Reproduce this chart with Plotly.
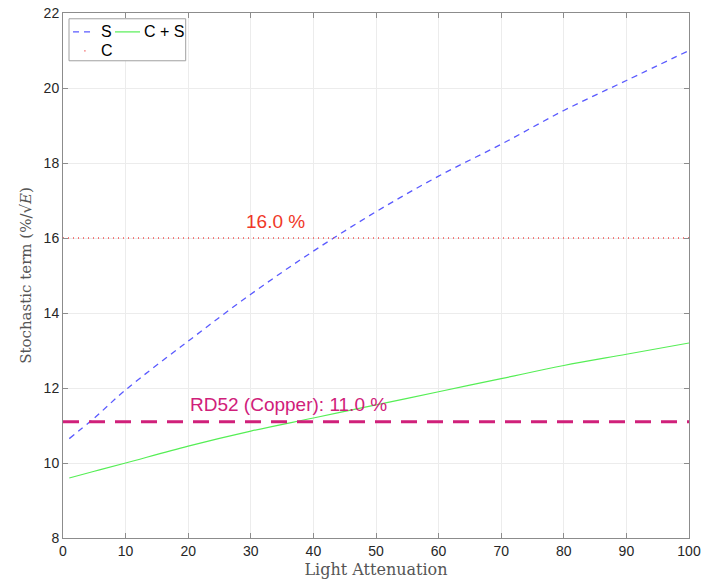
import plotly.graph_objects as go

x_att = [1, 5, 10, 20, 30, 40, 50, 60, 70, 80, 90, 100]
s_vals = [10.65, 11.2, 11.95, 13.25, 14.5, 15.65, 16.7, 17.65, 18.5, 19.4, 20.2, 21.0]
cs_vals = [9.6, 9.78, 10.0, 10.45, 10.85, 11.2, 11.55, 11.9, 12.25, 12.6, 12.9, 13.2]
c_x = [0, 100]
c_vals = [16.0, 16.0]
rd52_x = [0, 100]
rd52_vals = [11.1, 11.1]
x_ticks = list(range(0, 101, 10))
y_ticks = list(range(8, 23, 2))

fig = go.Figure()
fig.add_trace(go.Scatter(x=x_att, y=s_vals, mode="lines", name="S",
                         line=dict(color="#5a5aff", width=1.3, dash="6px,5px"), line_shape="spline"))
fig.add_trace(go.Scatter(x=x_att, y=cs_vals, mode="lines", name="C + S",
                         line=dict(color="#55ee55", width=1.2), line_shape="spline"))
fig.add_trace(go.Scatter(x=c_x, y=c_vals, mode="lines", name="C",
                         line=dict(color="#f05050", width=1.3, dash="1px,4px")))
fig.add_trace(go.Scatter(x=rd52_x, y=rd52_vals, mode="lines", name="RD52",
                         line=dict(color="#d0207a", width=3, dash="16px,10px"), showlegend=False))

fig.add_annotation(x=34, y=16.45, text="16.0 %", showarrow=False,
                   font=dict(family="Liberation Sans, Arial", size=19, color="#f03828"))
fig.add_annotation(x=36, y=11.55, text="RD52 (Copper): 11.0 %", showarrow=False,
                   font=dict(family="Liberation Sans, Arial", size=19, color="#d0207a"))

# manual legend
fig.add_shape(type="rect", xref="paper", yref="paper", x0=0.0096, x1=0.196, y0=0.909, y1=0.989,
              line=dict(color="#a0a0a0", width=1), fillcolor="white")
leg_font = dict(family="Liberation Sans, Arial", size=16, color="black")
fig.add_shape(type="line", xref="paper", yref="paper", x0=0.016, x1=0.048, y0=0.964, y1=0.964,
              line=dict(color="#5a5aff", width=1.3, dash="6px,5px"))
fig.add_annotation(xref="paper", yref="paper", x=0.0575, y=0.964, text="S", showarrow=False,
                   xanchor="left", yanchor="middle", font=leg_font)
fig.add_shape(type="line", xref="paper", yref="paper", x0=0.083, x1=0.123, y0=0.964, y1=0.964,
              line=dict(color="#55ee55", width=1.2))
fig.add_annotation(xref="paper", yref="paper", x=0.126, y=0.964, text="C + S", showarrow=False,
                   xanchor="left", yanchor="middle", font=leg_font)
fig.add_shape(type="line", xref="paper", yref="paper", x0=0.034, x1=0.036, y0=0.928, y1=0.928,
              line=dict(color="#f05050", width=1.2))
fig.add_annotation(xref="paper", yref="paper", x=0.0575, y=0.928, text="C", showarrow=False,
                   xanchor="left", yanchor="middle", font=leg_font)

axis_common = dict(showline=True, mirror="ticks", linecolor="#8c8c8c", linewidth=1,
                   ticks="inside", ticklen=5, tickcolor="#8c8c8c", automargin=False,
                   showgrid=True, gridcolor="#ececec", gridwidth=1, zeroline=False,
                   tickfont=dict(family="Liberation Sans, Arial", size=14, color="#262626"))
fig.update_xaxes(range=[0, 100], tickvals=x_ticks,
                 title=dict(text="Light Attenuation", standoff=6,
                            font=dict(family="DejaVu Serif, serif", size=16, color="#555555")),
                 **axis_common)
fig.update_yaxes(range=[8, 22], tickvals=y_ticks,
                 title=dict(text="Stochastic term (%/√<i>E</i>)", standoff=8,
                            font=dict(family="DejaVu Serif, serif", size=15, color="#555555")),
                 **axis_common)
fig.update_layout(width=703, height=586, margin=dict(l=63, r=14, t=13, b=48),
                  plot_bgcolor="white", paper_bgcolor="white", showlegend=False)
fig.write_html("out.html")
